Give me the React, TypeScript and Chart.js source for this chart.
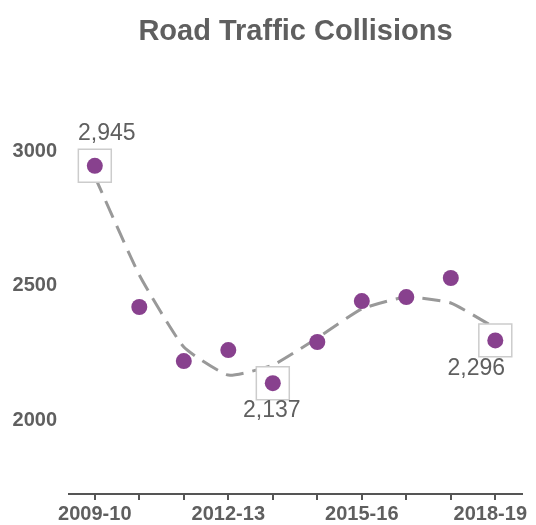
import React, { useEffect, useRef } from "react";
import { Chart, registerables } from "chart.js";

Chart.register(...registerables);

const categories = ["2009-10", "2010-11", "2011-12", "2012-13", "2013-14", "2014-15", "2015-16", "2016-17", "2017-18", "2018-19"];
const collisions = [2945, 2420, 2219, 2260, 2137, 2290, 2442, 2457, 2528, 2296];
const trend = [2905, 2539, 2271, 2167, 2204, 2305, 2413, 2457, 2435, 2342];
const highlighted = [0, 4, 9];
const yTicks = [2000, 2500, 3000];
const labelEvery = 3;

const TEXT = "#5f5f5f";
const PURPLE = "#88418e";
const FAMILY = "'Liberation Sans', Arial, sans-serif";

const labelOffsets: Record<number, [number, number]> = {
  0: [12, -32],
  4: [-1, 27],
  9: [-19, 28],
};

export default function App() {
  const ref = useRef<HTMLCanvasElement | null>(null);
  useEffect(() => {
    if (!ref.current) return;
    const annot = {
      id: "annot",
      afterDatasetsDraw(chart: any) {
        const { ctx, scales, chartArea } = chart;
        ctx.save();
        ctx.fillStyle = TEXT;
        ctx.font = `23px ${FAMILY}`;
        ctx.textAlign = "center";
        ctx.textBaseline = "middle";
        highlighted.forEach((i) => {
          const x = scales.x.getPixelForValue(i);
          const y = scales.y.getPixelForValue(collisions[i]);
          const [dx, dy] = labelOffsets[i];
          ctx.fillText(collisions[i].toLocaleString("en-US"), x + dx, y + dy);
        });
        // x tick labels
        ctx.font = `bold 20px ${FAMILY}`;
        ctx.textBaseline = "alphabetic";
        categories.forEach((c, i) => {
          if (i % labelEvery !== 0) return;
          const half = ctx.measureText(c).width / 2;
          const x = Math.min(scales.x.getPixelForValue(i), chart.width - 1 - half);
          ctx.fillText(c, x, chartArea.bottom + 26);
        });
        ctx.font = `bold 29px ${FAMILY}`;
        ctx.textBaseline = "middle";
        ctx.fillText("Road Traffic Collisions", (chartArea.left + chartArea.right) / 2, 24);
        ctx.restore();
      },
    };
    const chart = new Chart(ref.current, {
      type: "line",
      data: {
        datasets: [
          {
            data: collisions.map((v, i) => ({ x: i, y: v })),
            showLine: false,
            pointRadius: 8,
            pointHoverRadius: 8,
            pointBackgroundColor: PURPLE,
            pointBorderWidth: 0,
            order: 1,
          },
          {
            data: highlighted.map((i) => ({ x: i, y: collisions[i] })),
            showLine: false,
            pointStyle: "rect",
            pointRadius: 23.3,
            pointBackgroundColor: "#ffffff",
            pointBorderColor: "#cccccc",
            pointBorderWidth: 1.5,
            order: 2,
          },
          {
            data: trend.map((v, i) => ({ x: i, y: v })),
            borderColor: "#999999",
            borderWidth: 3,
            borderDash: [18, 9],
            pointRadius: 0,
            tension: 0.15,
            fill: false,
            order: 3,
          },
        ] as any,
      },
      options: {
        animation: false,
        responsive: true,
        maintainAspectRatio: false,
        layout: { autoPadding: false, padding: { top: 90, right: 6, left: 0, bottom: 25 } },
        plugins: { legend: { display: false }, tooltip: { enabled: false }, title: { display: false } },
        scales: {
          x: {
            type: "linear",
            min: -0.58,
            max: 9.6,
            afterBuildTicks: (scale: any) => {
              scale.ticks = categories.map((_, i) => ({ value: i }));
            },
            ticks: { display: false },
            grid: { display: true, drawOnChartArea: false, drawTicks: true, tickLength: 6, color: "#555555", lineWidth: 2 },
            border: { display: true, color: "#555555", width: 2 },
          },
          y: {
            min: 1725,
            max: 3197,
            afterBuildTicks: (scale: any) => {
              scale.ticks = yTicks.map((v) => ({ value: v }));
            },
            afterFit: (scale: any) => {
              scale.width = 61;
            },
            ticks: {
              padding: 12,
              color: TEXT,
              font: { family: FAMILY, size: 20, weight: "bold" },
              callback: (v: any) => String(v),
            },
            grid: { display: false, drawTicks: false },
            border: { display: false },
          },
        },
      } as any,
      plugins: [annot],
    });
    return () => chart.destroy();
  }, []);
  return (
    <div style={{ width: 520, height: 517, position: "relative" }}>
      <canvas ref={ref} />
    </div>
  );
}
